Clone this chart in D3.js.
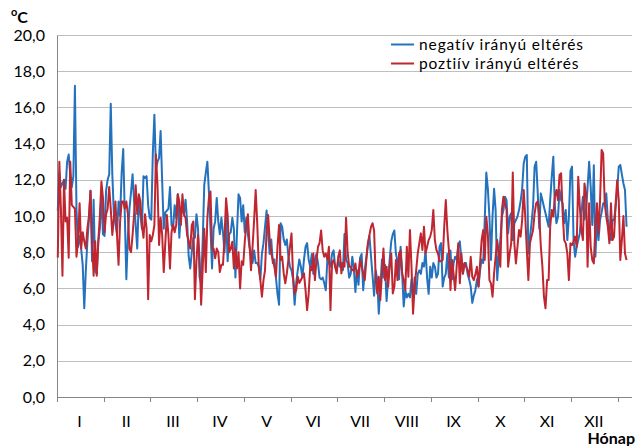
<!DOCTYPE html>
<html>
<head>
<meta charset="utf-8">
<script src="https://cdn.jsdelivr.net/npm/d3@7"></script>
<style>
    body { margin: 0; background: #fff; }
    svg text { font-family: Lato, "Liberation Sans", sans-serif; fill: #000; }
</style>
</head>
<body>
<svg id="chart"></svg>
<script>
// daily values (°C)
const negValues = [
    10.3, 12.4, 11.6, 11.8, 12.0, 11.5, 13.0, 13.4, 12.3, 11.6,
    12.2, 17.2, 10.4, 8.3, 8.9, 8.2, 7.3, 4.9, 7.0, 8.6,
    9.8, 11.4, 7.5, 10.9, 7.0, 6.8, 8.6, 9.3, 11.3, 9.0,
    8.9, 11.4, 12.0, 12.3, 16.2, 12.3, 10.1, 9.6, 9.0, 10.8,
    10.0, 12.4, 13.7, 10.1, 6.5, 8.9, 10.4, 11.3, 12.3, 10.8,
    9.5, 8.2, 11.0, 10.1, 9.3, 12.2, 12.1, 12.2, 10.6, 9.9,
    9.8, 13.5, 15.6, 12.6, 13.0, 13.2, 14.7, 11.9, 9.3, 10.2,
    10.3, 10.4, 11.6, 9.5, 9.3, 10.6, 9.9, 11.2, 8.8, 10.1,
    10.4, 10.1, 10.9, 9.7, 7.8, 7.1, 8.0, 8.8, 8.8, 10.1,
    9.3, 6.6, 6.3, 8.6, 11.7, 12.4, 13.0, 11.3, 9.3, 7.1,
    9.3, 9.7, 11.0, 9.7, 9.0, 9.9, 9.1, 8.0, 10.1, 7.5,
    9.0, 9.1, 9.9, 9.3, 6.6, 9.1, 11.2, 11.0, 9.7, 10.6,
    9.1, 9.9, 9.0, 8.3, 7.9, 7.4, 8.1, 7.4, 7.4, 7.2,
    6.5, 7.9, 8.5, 9.4, 10.3, 9.0, 7.9, 8.7, 7.4, 7.6,
    6.6, 5.7, 5.1, 9.6, 9.4, 8.7, 8.4, 8.7, 7.75, 7.2,
    7.0, 6.5, 5.1, 6.3, 7.0, 7.6, 7.2, 6.6, 7.6, 8.3,
    8.5, 7.6, 7.2, 7.9, 6.8, 7.6, 7.9, 7.4, 6.6, 6.5,
    6.6, 6.3, 5.9, 7.6, 7.4, 7.2, 7.9, 8.1, 7.2, 7.0,
    7.6, 7.2, 7.4, 7.0, 9.0, 7.6, 7.4, 6.6, 6.8, 7.75,
    7.1, 5.8, 7.0, 6.2, 7.7, 7.9, 5.9, 7.0, 7.7, 8.4,
    8.9, 7.8, 6.7, 5.6, 7.0, 6.5, 4.6, 6.0, 7.6, 6.6,
    7.3, 5.3, 6.5, 7.6, 8.6, 9.0, 9.2, 7.9, 7.5, 6.5,
    8.3, 6.8, 5.0, 5.9, 5.5, 5.7, 5.5, 6.5, 5.5, 6.6,
    5.7, 6.8, 7.0, 6.8, 7.4, 7.2, 8.1, 6.6, 5.7, 7.2,
    6.6, 7.4, 7.2, 6.6, 6.8, 8.3, 8.5, 6.1, 6.6, 6.8,
    7.9, 6.6, 8.1, 6.5, 7.4, 7.75, 7.6, 8.3, 8.6, 7.6,
    6.8, 7.4, 7.4, 6.8, 6.5, 6.1, 5.2, 5.6, 5.9, 6.5,
    6.1, 7.0, 7.6, 7.4, 9.8, 12.4, 11.5, 9.96, 7.57, 10.0,
    11.5, 10.3, 6.46, 7.75, 8.67, 9.96, 10.33, 11.07, 10.88, 9.04,
    9.96, 10.15, 8.67, 9.6, 9.78, 9.96, 10.33, 10.8, 11.5, 12.9,
    13.28, 13.37, 7.93, 8.8, 9.6, 10.52, 12.73, 13.0, 11.3, 9.3,
    11.25, 10.88, 10.5, 10.15, 9.78, 9.41, 10.88, 12.17, 13.28, 10.5,
    9.6, 9.96, 11.44, 10.88, 10.7, 9.6, 10.33, 8.67, 9.96, 12.5,
    12.73, 8.67, 7.75, 8.3, 8.67, 9.04, 10.15, 11.07, 9.8, 10.3,
    11.6, 13.0, 11.6, 9.5, 12.8, 7.75, 9.78, 8.67, 9.78, 10.2,
    10.7, 10.7, 11.25, 9.78, 9.04, 8.67, 9.78, 9.78, 10.52, 11.44,
    12.73, 12.82, 12.3, 11.8, 11.44, 9.41
];

const posValues = [
    7.7, 13.0, 10.4, 6.7, 12.0, 9.7, 9.9, 7.7, 13.0, 10.6,
    10.5, 10.4, 7.75, 8.6, 10.7, 8.2, 9.1, 8.6, 8.2, 9.3,
    10.0, 11.4, 8.6, 6.7, 8.6, 6.7, 8.6, 10.0, 11.9, 11.0,
    9.1, 10.1, 10.4, 11.6, 10.4, 8.95, 9.9, 10.8, 8.95, 7.3,
    9.7, 10.8, 10.8, 10.4, 10.8, 10.1, 8.2, 8.0, 8.95, 10.1,
    11.7, 10.1, 11.2, 10.8, 9.5, 8.8, 10.1, 9.3, 5.4, 8.95,
    8.6, 8.95, 9.5, 13.4, 11.7, 8.4, 9.9, 8.95, 6.9, 8.5,
    10.06, 8.95, 7.1, 9.1, 9.5, 9.1, 9.5, 11.2, 10.8, 9.5,
    11.2, 10.06, 9.9, 8.95, 8.6, 8.2, 9.5, 9.7, 5.4, 7.5,
    8.95, 7.66, 5.1, 7.1, 9.3, 6.9, 9.9, 11.0, 11.35, 8.2,
    8.2, 7.66, 8.2, 8.0, 6.9, 7.3, 7.3, 8.77, 10.98, 10.06,
    8.0, 8.2, 8.58, 7.1, 8.2, 7.1, 8.0, 6.0, 7.5, 7.3,
    8.58, 9.5, 10.1, 8.5, 7.0, 8.3, 9.78, 11.43, 9.59, 7.2,
    6.46, 5.54, 6.46, 7.0, 9.2, 10.05, 8.67, 7.93, 7.57, 7.2,
    6.64, 8.3, 9.5, 7.57, 7.75, 6.83, 6.28, 6.83, 7.57, 8.3,
    9.04, 6.64, 5.72, 5.91, 6.64, 6.3, 6.46, 6.64, 6.83, 5.9,
    4.8, 5.7, 7.2, 7.0, 7.93, 6.46, 7.57, 8.3, 8.5, 9.2,
    8.1, 7.75, 7.93, 7.6, 8.3, 4.8, 7.4, 7.57, 7.2, 6.83,
    7.75, 8.1, 6.83, 7.4, 7.2, 9.9, 8.0, 7.2, 7.2, 7.0,
    7.0, 7.38, 6.64, 6.83, 7.57, 7.2, 6.83, 6.46, 7.57, 8.49,
    8.95, 9.4, 9.6, 9.2, 6.64, 5.72, 6.64, 5.36, 6.83, 8.2,
    6.46, 7.2, 6.1, 7.2, 7.93, 5.72, 6.1, 7.57, 6.46, 7.93,
    8.1, 6.83, 6.46, 5.9, 8.3, 6.64, 9.22, 7.2, 4.6, 6.1,
    7.0, 7.93, 8.49, 9.04, 8.12, 9.41, 7.93, 8.3, 8.67, 8.86,
    9.22, 10.33, 8.67, 8.12, 7.93, 7.5, 7.5, 7.57, 9.41, 10.88,
    9.22, 8.12, 5.91, 7.57, 6.8, 5.91, 7.2, 8.49, 6.28, 7.93,
    6.83, 7.38, 7.2, 7.01, 6.64, 7.75, 6.64, 6.46, 6.8, 7.2,
    6.1, 7.38, 8.67, 9.22, 7.57, 9.96, 9.0, 6.46, 6.28, 5.54,
    6.83, 7.75, 8.67, 7.93, 7.2, 10.33, 11.07, 10.7, 10.33, 7.2,
    7.93, 8.5, 12.4, 8.49, 7.38, 8.3, 9.22, 8.86, 9.78, 11.44,
    9.96, 8.12, 6.46, 8.49, 8.86, 9.22, 10.15, 10.7, 10.8, 10.0,
    8.3, 7.2, 5.54, 4.9, 6.46, 6.46, 9.41, 10.33, 9.96, 11.07,
    11.44, 10.88, 12.27, 12.36, 10.15, 8.67, 8.49, 7.93, 6.46, 8.49,
    8.4, 8.6, 8.86, 8.3, 12.17, 10.52, 9.22, 8.67, 11.8, 11.25,
    7.2, 10.7, 8.3, 7.57, 7.38, 9.41, 10.7, 9.04, 10.88, 13.65,
    13.46, 10.7, 9.96, 9.41, 8.49, 10.7, 8.67, 8.86, 10.7, 11.98,
    10.88, 7.57, 8.67, 10.0, 7.93, 7.57
];

const monthLabels = ["I", "II", "III", "IV", "V", "VI", "VII", "VIII", "IX", "X", "XI", "XII"];
const monthLabelDays = [14, 44, 74, 104, 134, 164, 194, 224, 254, 284, 314, 344];
const monthTickDays = [0, 30, 60, 90, 120, 150, 180, 210, 240, 270, 300, 330, 360];
const yTicks = [0, 2, 4, 6, 8, 10, 12, 14, 16, 18, 20];
const seriesNames = ["negatív irányú eltérés", "poztiív irányú eltérés"];
const seriesColors = ["#2472bd", "#bf2630"];

const config = {
    width: 636,
    height: 446,
    margin: {top: 35, right: 4, bottom: 49, left: 57},
    slots: 369
};

const svg = d3.select("#chart")
    .attr("width", config.width)
    .attr("height", config.height);

const innerW = config.width - config.margin.left - config.margin.right;
const innerH = config.height - config.margin.top - config.margin.bottom;

const chart = svg.append("g")
    .attr("transform", `translate(${config.margin.left},${config.margin.top})`);

const xScale = d3.scaleLinear().domain([0, config.slots]).range([0, innerW]);
const yScale = d3.scaleLinear().domain([0, 20]).range([innerH, 0]);

// horizontal gridlines
chart.append("g")
    .selectAll("line")
    .data(yTicks.filter(d => d > 0))
    .join("line")
    .attr("x1", 0)
    .attr("x2", innerW)
    .attr("y1", d => Math.round(yScale(d)) + 0.5)
    .attr("y2", d => Math.round(yScale(d)) + 0.5)
    .attr("stroke", "#bebebe")
    .attr("stroke-width", 1);

// y axis
const fmt = d => d3.format(".1f")(d).replace(".", ",");
const yAxis = d3.axisLeft(yScale).tickValues(yTicks).tickFormat(fmt).tickSize(0).tickPadding(12);
const yAxisG = chart.append("g").call(yAxis);
yAxisG.select(".domain").attr("stroke", "#868686");
yAxisG.selectAll("text").attr("font-size", 16);

// x axis line and ticks
chart.append("line")
    .attr("x1", 0).attr("x2", innerW)
    .attr("y1", innerH + 0.5).attr("y2", innerH + 0.5)
    .attr("stroke", "#868686");

chart.append("g")
    .selectAll("line")
    .data(monthTickDays)
    .join("line")
    .attr("x1", d => Math.round(xScale(d)) + 0.5)
    .attr("x2", d => Math.round(xScale(d)) + 0.5)
    .attr("y1", innerH)
    .attr("y2", innerH + 5)
    .attr("stroke", "#868686");

chart.append("g")
    .selectAll("text")
    .data(monthLabels)
    .join("text")
    .attr("x", (d, i) => xScale(monthLabelDays[i] + 0.5))
    .attr("y", innerH + 30)
    .attr("text-anchor", "middle")
    .attr("font-size", 16)
    .text(d => d);

// series lines
const line = d3.line()
    .x((d, i) => xScale(i + 0.5))
    .y(d => yScale(d));

[negValues, posValues].forEach((vals, k) => {
    chart.append("path")
        .datum(vals)
        .attr("fill", "none")
        .attr("stroke", seriesColors[k])
        .attr("stroke-width", 2)
        .attr("stroke-linejoin", "round")
        .attr("d", line);
});

// legend
const legend = svg.append("g").attr("transform", "translate(391,44.5)");
seriesNames.forEach((name, i) => {
    const g = legend.append("g").attr("transform", `translate(0,${i * 19})`);
    g.append("line")
        .attr("x1", 0).attr("x2", 23)
        .attr("y1", 0).attr("y2", 0)
        .attr("stroke", seriesColors[i])
        .attr("stroke-width", 2);
    g.append("text")
        .attr("x", 28)
        .attr("y", 5.5)
        .attr("font-size", 15.5)
        .attr("letter-spacing", 0.9)
        .text(name);
});

// unit label
const unit = svg.append("text")
    .attr("x", 11)
    .attr("y", 23)
    .attr("font-weight", "bold")
    .attr("font-size", 16);
unit.append("tspan").attr("font-size", 11).attr("dy", -7).text("o");
unit.append("tspan").attr("dy", 7).text("C");

// x axis title
svg.append("text")
    .attr("x", 635)
    .attr("y", 444)
    .attr("text-anchor", "end")
    .attr("font-weight", "bold")
    .attr("font-size", 16)
    .text("Hónap");
</script>
</body>
</html>
